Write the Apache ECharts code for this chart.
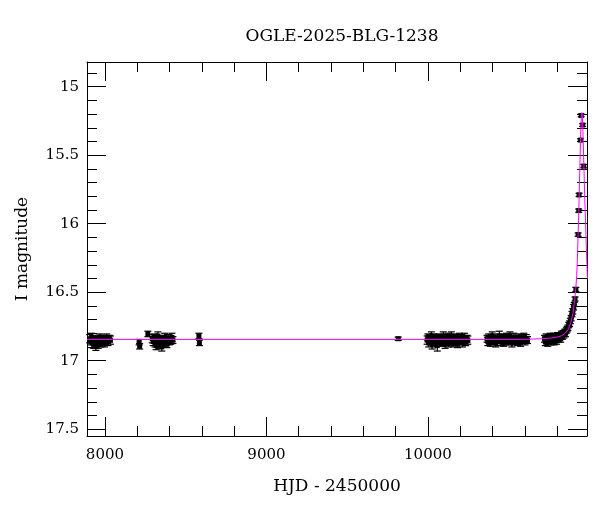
<!DOCTYPE html>
<html>
<head>
<meta charset="utf-8">
<script src="https://cdn.jsdelivr.net/npm/echarts@6/dist/echarts.min.js"></script>
<style>html,body{margin:0;padding:0;background:#fff}#c{width:600px;height:512px}</style>
</head>
<body>
<div id="c"></div>
<script>
// ---- Observations (HJD - 2450000, I mag, error) by season ----
var s2017_hjd = [7906, 7912, 7917, 7921, 7926, 7930, 7935, 7939, 7944, 7948, 7953, 7958, 7963, 7968, 7974, 7979, 7985, 7991, 7997, 8004, 8011, 8019, 8027, 8034];
var s2017_mag = [16.84, 16.86, 16.83, 16.87, 16.85, 16.88, 16.86, 16.84, 16.89, 16.87, 16.85, 16.88, 16.86, 16.83, 16.87, 16.85, 16.86, 16.84, 16.87, 16.85, 16.83, 16.86, 16.84, 16.85];
var s2017_err = [0.03, 0.025, 0.03, 0.035, 0.025, 0.03, 0.03, 0.025, 0.035, 0.03, 0.025, 0.03, 0.03, 0.025, 0.03, 0.035, 0.03, 0.025, 0.03, 0.03, 0.025, 0.03, 0.025, 0.03];

var s2018_hjd = [8212, 8215, 8266, 8293, 8299, 8305, 8311, 8317, 8322, 8328, 8334, 8340, 8346, 8352, 8358, 8364, 8370, 8377, 8384, 8391, 8399, 8407, 8415, 8421, 8582, 8585];
var s2018_mag = [16.865, 16.895, 16.805, 16.84, 16.86, 16.83, 16.87, 16.89, 16.85, 16.82, 16.88, 16.86, 16.84, 16.90, 16.87, 16.85, 16.83, 16.86, 16.88, 16.84, 16.86, 16.85, 16.83, 16.85, 16.82, 16.87];
var s2018_err = [0.02, 0.02, 0.02, 0.03, 0.03, 0.025, 0.03, 0.03, 0.025, 0.03, 0.03, 0.035, 0.025, 0.03, 0.03, 0.025, 0.03, 0.03, 0.025, 0.03, 0.025, 0.03, 0.03, 0.025, 0.02, 0.02];

var s2022_hjd = [9816];
var s2022_mag = [16.84];
var s2022_err = [0.012];

var s2023_hjd = [9995, 10000, 10005, 10010, 10015, 10021, 10026, 10031, 10036, 10042, 10047, 10052, 10058, 10063, 10068, 10074, 10079, 10084, 10090, 10095, 10101, 10106, 10112, 10117, 10123, 10128, 10134, 10139, 10145, 10150, 10156, 10161, 10167, 10172, 10178, 10184, 10190, 10196, 10202, 10208, 10214, 10220, 10227, 10234, 10241, 10247];
var s2023_mag = [16.85, 16.83, 16.87, 16.84, 16.86, 16.82, 16.88, 16.85, 16.83, 16.87, 16.84, 16.86, 16.89, 16.85, 16.83, 16.86, 16.84, 16.87, 16.85, 16.82, 16.86, 16.88, 16.84, 16.85, 16.83, 16.87, 16.85, 16.86, 16.82, 16.84, 16.87, 16.85, 16.83, 16.86, 16.84, 16.88, 16.85, 16.83, 16.86, 16.84, 16.87, 16.85, 16.83, 16.86, 16.84, 16.85];
var s2023_err = [0.03, 0.025, 0.03, 0.03, 0.025, 0.03, 0.035, 0.03, 0.025, 0.03, 0.03, 0.025, 0.04, 0.03, 0.025, 0.03, 0.03, 0.025, 0.03, 0.03, 0.025, 0.03, 0.03, 0.025, 0.03, 0.03, 0.025, 0.03, 0.03, 0.025, 0.03, 0.03, 0.025, 0.03, 0.03, 0.025, 0.03, 0.03, 0.025, 0.03, 0.03, 0.025, 0.03, 0.03, 0.025, 0.03];

var s2024_hjd = [10366, 10371, 10376, 10382, 10387, 10392, 10398, 10403, 10409, 10414, 10420, 10425, 10431, 10436, 10442, 10447, 10453, 10458, 10464, 10469, 10475, 10480, 10486, 10491, 10497, 10502, 10508, 10514, 10520, 10526, 10532, 10538, 10544, 10550, 10556, 10562, 10568, 10574, 10580, 10587, 10594, 10601, 10609, 10617];
var s2024_mag = [16.84, 16.86, 16.83, 16.85, 16.87, 16.84, 16.82, 16.86, 16.85, 16.83, 16.87, 16.84, 16.86, 16.85, 16.82, 16.84, 16.86, 16.83, 16.85, 16.87, 16.84, 16.86, 16.83, 16.85, 16.84, 16.86, 16.82, 16.85, 16.87, 16.84, 16.83, 16.86, 16.85, 16.84, 16.86, 16.83, 16.85, 16.87, 16.84, 16.85, 16.83, 16.86, 16.84, 16.85];
var s2024_err = [0.025, 0.03, 0.025, 0.03, 0.025, 0.03, 0.03, 0.025, 0.03, 0.025, 0.03, 0.025, 0.03, 0.025, 0.035, 0.025, 0.03, 0.025, 0.03, 0.025, 0.03, 0.025, 0.03, 0.025, 0.03, 0.025, 0.03, 0.025, 0.03, 0.025, 0.03, 0.025, 0.03, 0.025, 0.03, 0.025, 0.03, 0.025, 0.03, 0.025, 0.03, 0.025, 0.03, 0.025];

var s2025_hjd = [10722, 10727, 10732, 10737, 10742, 10747, 10752, 10757, 10762, 10767, 10772, 10777, 10782, 10787, 10792, 10797, 10802, 10807, 10812, 10817, 10822, 10827, 10832, 10837, 10842, 10847, 10852, 10857, 10862, 10867, 10872, 10877, 10882, 10887, 10892, 10897, 10902, 10906, 10911, 10916, 10930, 10934, 10936, 10945, 10949, 10958, 10965];
var s2025_mag = [16.84, 16.86, 16.83, 16.85, 16.87, 16.84, 16.85, 16.83, 16.86, 16.84, 16.85, 16.83, 16.86, 16.84, 16.83, 16.85, 16.82, 16.84, 16.83, 16.82, 16.84, 16.81, 16.82, 16.80, 16.81, 16.79, 16.80, 16.78, 16.77, 16.76, 16.74, 16.73, 16.71, 16.69, 16.66, 16.64, 16.61, 16.59, 16.55, 16.48, 16.08, 15.905, 15.79, 15.39, 15.21, 15.28, 15.58];
var s2025_err = [0.025, 0.03, 0.025, 0.03, 0.025, 0.03, 0.025, 0.03, 0.025, 0.03, 0.025, 0.03, 0.025, 0.03, 0.025, 0.03, 0.025, 0.025, 0.025, 0.025, 0.025, 0.025, 0.025, 0.02, 0.025, 0.02, 0.025, 0.02, 0.02, 0.02, 0.02, 0.02, 0.02, 0.02, 0.02, 0.02, 0.02, 0.015, 0.015, 0.015, 0.012, 0.012, 0.012, 0.01, 0.01, 0.01, 0.012];

// ---- Model light curve ----
var model_hjd = [7889, 10600, 10700, 10760, 10800, 10830, 10850, 10870, 10885, 10899, 10908, 10916, 10921, 10925, 10930, 10934, 10938, 10942, 10946, 10950, 10953, 10956, 10960, 10964, 10968, 10972, 10976, 10980, 10984, 10988];
var model_mag = [16.845, 16.845, 16.840, 16.835, 16.828, 16.818, 16.80, 16.77, 16.72, 16.65, 16.56, 16.47, 16.38, 16.28, 16.08, 15.92, 15.73, 15.53, 15.34, 15.22, 15.19, 15.21, 15.33, 15.50, 15.68, 15.85, 15.98, 16.14, 16.28, 16.40];

// ---- Axes ----
var xMin = 7889, xMax = 10985;
var yMin = 14.82, yMax = 17.55;
var xMajor = [8000, 9000, 10000];
var yMajor = [15, 15.5, 16, 16.5, 17, 17.5];
var xMinorStep = 200, yMinorStep = 0.1;

function minors(lo, hi, step, majors) {
  var out = [];
  var start = Math.ceil(lo / step - 1e-9);
  for (var k = start; k * step <= hi + 1e-9; k++) {
    var v = +(k * step).toFixed(6);
    var isMajor = majors.some(function (m) { return Math.abs(m - v) < 1e-6; });
    if (!isMajor) out.push(v);
  }
  return out;
}
var xMinor = minors(xMin, xMax, xMinorStep, xMajor);
var yMinor = minors(yMin, yMax, yMinorStep, yMajor);

var points = [];
[[s2017_hjd, s2017_mag, s2017_err], [s2018_hjd, s2018_mag, s2018_err], [s2022_hjd, s2022_mag, s2022_err],
 [s2023_hjd, s2023_mag, s2023_err], [s2024_hjd, s2024_mag, s2024_err], [s2025_hjd, s2025_mag, s2025_err]].forEach(function (s) {
  for (var i = 0; i < s[0].length; i++) points.push([s[0][i], s[1][i], s[2][i] != null ? s[2][i] : 0.025]);
});
var model = model_hjd.map(function (h, i) { return [h, model_mag[i]]; });

var FONT = 'DejaVu Serif';
var black = '#000';
function plain(v) { return String(v); }

function xAxisDef(pos, values, len, showLine, labels) {
  return {
    type: 'value', position: pos, min: xMin, max: xMax, scale: true,
    axisLine: { show: showLine, onZero: false, lineStyle: { color: black, width: 1 } },
    axisTick: { show: true, inside: true, length: len, customValues: values, lineStyle: { color: black, width: 1 } },
    axisLabel: labels ? { show: true, customValues: values, formatter: plain, margin: 12, color: black, fontFamily: FONT, fontSize: 15 } : { show: false },
    splitLine: { show: false }
  };
}
function yAxisDef(pos, values, len, showLine, labels) {
  return {
    type: 'value', position: pos, min: yMin, max: yMax, inverse: true, scale: true,
    axisLine: { show: showLine, onZero: false, lineStyle: { color: black, width: 1 } },
    axisTick: { show: true, inside: true, length: len, customValues: values, lineStyle: { color: black, width: 1 } },
    axisLabel: labels ? { show: true, customValues: values, formatter: plain, margin: 8, color: black, fontFamily: FONT, fontSize: 15 } : { show: false },
    splitLine: { show: false }
  };
}

var xAxes = [
  xAxisDef('bottom', xMajor, 19, true, true),
  xAxisDef('bottom', xMinor, 10, false, false),
  xAxisDef('top', xMajor, 19, true, false),
  xAxisDef('top', xMinor, 10, false, false)
];
xAxes[0].name = 'HJD - 2450000';
xAxes[0].nameLocation = 'middle';
xAxes[0].nameGap = 42;
xAxes[0].nameTextStyle = { color: black, fontFamily: FONT, fontSize: 17 };

var yAxes = [
  yAxisDef('left', yMajor, 19, true, true),
  yAxisDef('left', yMinor, 10, false, false),
  yAxisDef('right', yMajor, 19, true, false),
  yAxisDef('right', yMinor, 10, false, false)
];
yAxes[0].name = 'I magnitude';
yAxes[0].nameLocation = 'middle';
yAxes[0].nameGap = 56;
yAxes[0].nameTextStyle = { color: black, fontFamily: FONT, fontSize: 17 };

var chart = echarts.init(document.getElementById('c'), null, { renderer: 'canvas' });
chart.setOption({
  animation: false,
  backgroundColor: '#fff',
  title: {
    text: 'OGLE-2025-BLG-1238', left: 337, top: 23, textAlign: 'center',
    textStyle: { color: black, fontFamily: FONT, fontSize: 17, fontWeight: 'normal' }
  },
  grid: { left: 87, top: 62, width: 500, height: 374, containLabel: false },
  xAxis: xAxes,
  yAxis: yAxes,
  series: [
    {
      type: 'custom', xAxisIndex: 0, yAxisIndex: 0, z: 2,
      data: points,
      encode: { x: 0, y: 1 },
      renderItem: function (params, api) {
        var x = api.value(0), y = api.value(1), e = api.value(2);
        var p = api.coord([x, y]);
        var t = api.coord([x, y - e]);
        var b = api.coord([x, y + e]);
        var cw = 3.5, s = 5;
        var st = { stroke: black, lineWidth: 1.2 };
        return {
          type: 'group',
          children: [
            { type: 'line', shape: { x1: p[0], y1: t[1], x2: p[0], y2: b[1] }, style: st },
            { type: 'line', shape: { x1: p[0] - cw, y1: t[1], x2: p[0] + cw, y2: t[1] }, style: st },
            { type: 'line', shape: { x1: p[0] - cw, y1: b[1], x2: p[0] + cw, y2: b[1] }, style: st },
            { type: 'rect', shape: { x: p[0] - s / 2, y: p[1] - s / 2, width: s, height: s }, style: { fill: black } }
          ]
        };
      }
    },
    {
      type: 'line', xAxisIndex: 0, yAxisIndex: 0, z: 5,
      data: model, showSymbol: false, symbol: 'none', smooth: false, clip: true,
      lineStyle: { color: '#ff00ff', width: 1 }
    }
  ]
});
</script>
</body>
</html>
